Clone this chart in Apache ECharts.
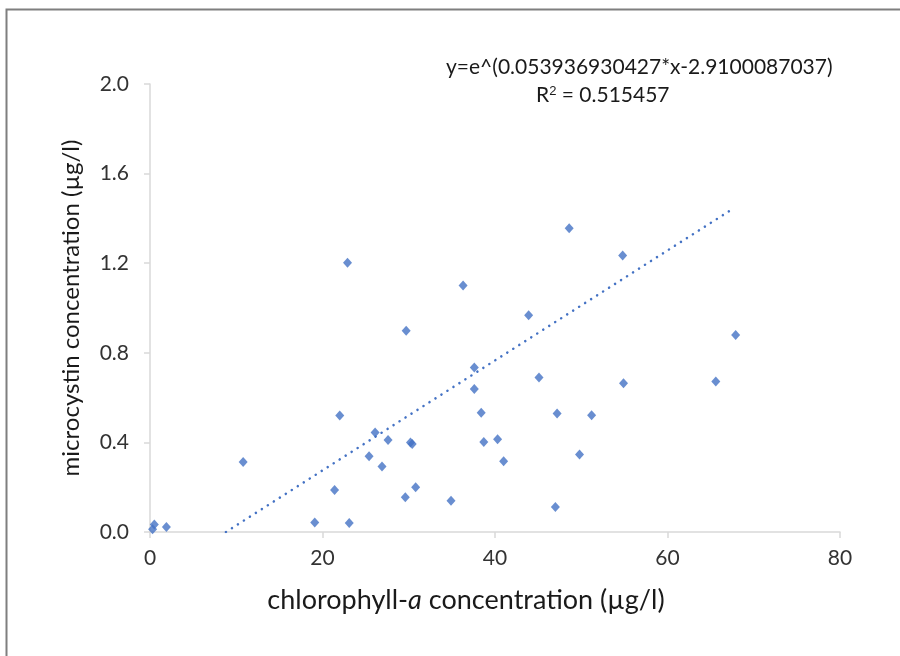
<!DOCTYPE html>
<html><head><meta charset="utf-8">
<script src="https://cdn.jsdelivr.net/npm/echarts@6/dist/echarts.min.js"></script>
<style>html,body{margin:0;padding:0;background:#fff}#c{width:900px;height:656px}</style>
</head><body><div id="c"></div>
<script>
// chlorophyll-a (µg/l)
const chlA = [22.9,29.7,22.0,10.8,26.1,27.6,30.2,30.4,25.4,26.9,21.4,30.8,29.6,19.1,23.1,0.5,0.3,1.9,
              48.6,54.8,36.3,43.9,67.9,37.6,45.1,54.9,65.6,37.6,38.4,47.2,51.2,38.7,40.3,41.0,49.8,34.9,47.0];
// microcystin (µg/l)
const mc = [1.202,0.898,0.520,0.313,0.444,0.411,0.399,0.393,0.338,0.292,0.188,0.200,0.155,0.042,0.040,0.034,0.012,0.022,
            1.356,1.234,1.101,0.968,0.880,0.734,0.690,0.664,0.672,0.638,0.532,0.529,0.521,0.402,0.414,0.316,0.346,0.139,0.112];
// trend line end points as drawn
const trendX = [8.8, 67.7];
const trendY = [0, 1.446];
const xTicks = [0,20,40,60,80];
const yTicks = [0.0,0.4,0.8,1.2,1.6,2.0];
const eqText = 'y=e^(0.053936930427*x-2.9100087037)';
const r2Value = '0.515457';

const FONT = 'Lato';
const chart = echarts.init(document.getElementById('c'), null, {renderer:'canvas'});
chart.setOption({
  animation:false,
  backgroundColor:'#fff',
  textStyle:{fontFamily:FONT},
  grid:{left:150,right:60,top:84,bottom:124,containLabel:false},
  xAxis:{type:'value',min:xTicks[0],max:xTicks[xTicks.length-1],interval:20,
    axisLine:{show:true,onZero:false,lineStyle:{color:'#d9d9d9',width:1.5}},
    axisTick:{show:true,length:6,lineStyle:{color:'#d9d9d9',width:1.5}},
    splitLine:{show:false},
    axisLabel:{fontSize:21,color:'#333333',margin:16,fontFamily:FONT},
    name:'{t|chlorophyll-}{i|a}{t| concentration (µg/l)}',nameLocation:'middle',nameGap:55,
    nameTextStyle:{padding:[0,58,0,0],rich:{t:{fontSize:27,color:'#1a1a1a',fontFamily:FONT},i:{fontSize:27,color:'#1a1a1a',fontStyle:'italic',fontFamily:FONT}}}
  },
  yAxis:{type:'value',min:yTicks[0],max:yTicks[yTicks.length-1],interval:0.4,
    axisLine:{show:true,lineStyle:{color:'#d9d9d9',width:1.5}},
    axisTick:{show:true,length:6,lineStyle:{color:'#d9d9d9',width:1.5}},
    splitLine:{show:false},
    axisLabel:{fontSize:21,color:'#333333',margin:21,fontFamily:FONT,formatter:v=>v.toFixed(1)},
    name:'microcystin concentration (µg/l)',nameLocation:'middle',nameGap:67,
    nameTextStyle:{fontSize:24,color:'#1a1a1a',fontFamily:FONT}
  },
  series:[
    {type:'scatter',symbol:'diamond',symbolSize:[9,10],
      itemStyle:{color:'#4472C4'},
      data:chlA.map((x,i)=>[x,mc[i]])},
    {type:'line',symbol:'none',silent:true,
      lineStyle:{color:'#4472C4',width:2.5,type:[0.1,7],cap:'round'},
      data:trendX.map((x,i)=>[x,trendY[i]])}
  ],
  graphic:[
    {type:'rect',shape:{x:6.5,y:9.5,width:1000,height:1000},style:{fill:'none',stroke:'#7f7f7f',lineWidth:2}},
    {type:'text',left:446,top:57,style:{text:eqText,font:'21px '+FONT,fill:'#1a1a1a'}},
    {type:'text',left:536,top:85,style:{text:'R{s|2} = '+r2Value,font:'21px '+FONT,fill:'#1a1a1a',
      rich:{s:{fontSize:13,verticalAlign:'top',padding:[0,0,8,0],fill:'#1a1a1a'}}}}
  ]
});
</script></body></html>
